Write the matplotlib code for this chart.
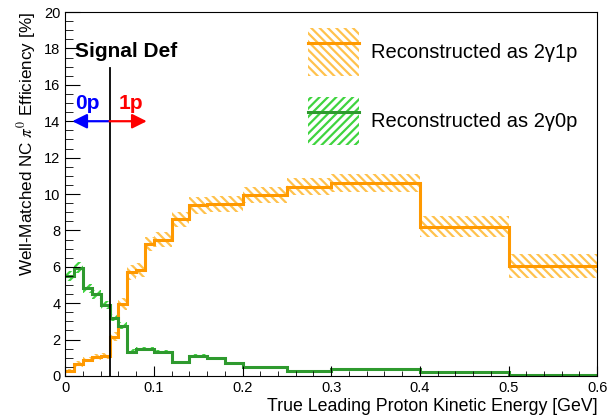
import numpy as np
import matplotlib
matplotlib.use("Agg")
import matplotlib.pyplot as plt
from matplotlib.patches import Patch
from matplotlib.lines import Line2D
from matplotlib.ticker import MultipleLocator

# bin edges in GeV
edges = [0.0, 0.01, 0.02, 0.03, 0.04, 0.05, 0.06, 0.07, 0.08, 0.09, 0.10,
         0.12, 0.14, 0.16, 0.18, 0.20, 0.25, 0.30, 0.40, 0.50, 0.60]

# efficiency [%], reconstructed as 2g1p
eff_1p = [0.29, 0.66, 0.90, 1.05, 1.10, 2.16, 3.95, 5.70, 5.82, 7.25,
          7.50, 8.60, 9.37, 9.45, 9.45, 9.95, 10.40, 10.60, 8.20, 6.05]
err_1p = [0.12, 0.15, 0.15, 0.15, 0.15, 0.25, 0.35, 0.40, 0.40, 0.40,
          0.40, 0.42, 0.45, 0.45, 0.45, 0.45, 0.48, 0.50, 0.58, 0.66]

# efficiency [%], reconstructed as 2g0p
eff_0p = [5.50, 5.95, 4.82, 4.50, 3.90, 3.20, 2.76, 1.34, 1.47, 1.47,
          1.34, 0.75, 1.10, 0.97, 0.70, 0.48, 0.30, 0.37, 0.20, 0.05]
err_0p = [0.28, 0.30, 0.25, 0.25, 0.22, 0.20, 0.18, 0.12, 0.12, 0.12,
          0.10, 0.08, 0.10, 0.08, 0.08, 0.05, 0.04, 0.04, 0.03, 0.02]

signal_cut = 0.05

orange = "#ff9900"
orange_h = "#ffc24d"
green = "#2e9a2e"
green_h = "#3fd43f"

plt.rcParams['font.family'] = ['Liberation Sans', 'DejaVu Sans']
plt.rcParams['mathtext.fontset'] = 'stix'
plt.rcParams['hatch.linewidth'] = 1.6

fig = plt.figure(figsize=(6.15, 4.15), dpi=100)
ax = fig.add_axes([0.106, 0.094, 0.865, 0.877])

e = np.array(edges)
w = np.diff(e)
v1 = np.array(eff_1p); s1 = np.array(err_1p)
v0 = np.array(eff_0p); s0 = np.array(err_0p)

# hatched uncertainty bands
ax.bar(e[:-1], 2 * s1, width=w, bottom=v1 - s1, align='edge', fill=False,
       hatch='\\\\\\\\', edgecolor=orange_h, linewidth=0)
ax.bar(e[:-1], 2 * s0, width=w, bottom=v0 - s0, align='edge', fill=False,
       hatch='////', edgecolor=green_h, linewidth=0)

ax.stairs(v1, e, baseline=None, color=orange, linewidth=2.2)
ax.stairs(v0, e, baseline=None, color=green, linewidth=2.2)

# signal definition line and arrows
ax.plot([signal_cut, signal_cut], [0, 16.9], color='black', linewidth=1.3)
ax.annotate('', xy=(0.008, 14), xytext=(signal_cut, 14),
            arrowprops=dict(arrowstyle='-|>', color='blue', lw=1.6,
                            mutation_scale=22, shrinkA=0, shrinkB=0))
ax.annotate('', xy=(0.092, 14), xytext=(signal_cut, 14),
            arrowprops=dict(arrowstyle='-|>', color='red', lw=1.6,
                            mutation_scale=22, shrinkA=0, shrinkB=0))
ax.text(0.011, 17.55, 'Signal Def', fontsize=15, fontweight='bold', ha='left', va='baseline')
ax.text(0.025, 14.65, '0p', fontsize=15, fontweight='bold', color='blue', ha='center', va='baseline')
ax.text(0.074, 14.65, '1p', fontsize=15, fontweight='bold', color='red', ha='center', va='baseline')

ax.set_xlim(0, 0.6)
ax.set_ylim(0, 20)
ax.xaxis.set_major_locator(MultipleLocator(0.1))
ax.xaxis.set_minor_locator(MultipleLocator(0.02))
ax.yaxis.set_major_locator(MultipleLocator(2))
ax.yaxis.set_minor_locator(MultipleLocator(0.5))
ax.tick_params(axis='both', which='both', direction='in', labelsize=10.5)
ax.tick_params(axis='y', which='major', length=11)
ax.tick_params(axis='y', which='minor', length=5.5)
ax.tick_params(axis='x', which='major', length=7)
ax.tick_params(axis='x', which='minor', length=3.6)
ax.set_xticks([0, 0.1, 0.2, 0.3, 0.4, 0.5, 0.6])
ax.set_xticklabels(['0', '0.1', '0.2', '0.3', '0.4', '0.5', '0.6'])

ax.set_xlabel('True Leading Proton Kinetic Energy [GeV]', fontsize=12.8, loc='right', labelpad=2)
ax.set_ylabel(r'Well-Matched NC $\pi^0$ Efficiency [%]', fontsize=12.3, loc='top')

h1 = (Patch(fill=False, hatch='\\\\\\\\', edgecolor=orange_h, linewidth=0),
      Line2D([], [], color=orange, linewidth=2.2))
h0 = (Patch(fill=False, hatch='////', edgecolor=green_h, linewidth=0),
      Line2D([], [], color=green, linewidth=2.2))
ax.legend([h1, h0], ['Reconstructed as 2\u03b31p', 'Reconstructed as 2\u03b30p'],
          loc='upper left', bbox_to_anchor=(0.457, 0.956), frameon=False,
          fontsize=14.5, handlelength=2.5, handleheight=3.29, labelspacing=1.04,
          handletextpad=0.6, borderpad=0, borderaxespad=0)

fig.savefig('out.png', dpi=100)
